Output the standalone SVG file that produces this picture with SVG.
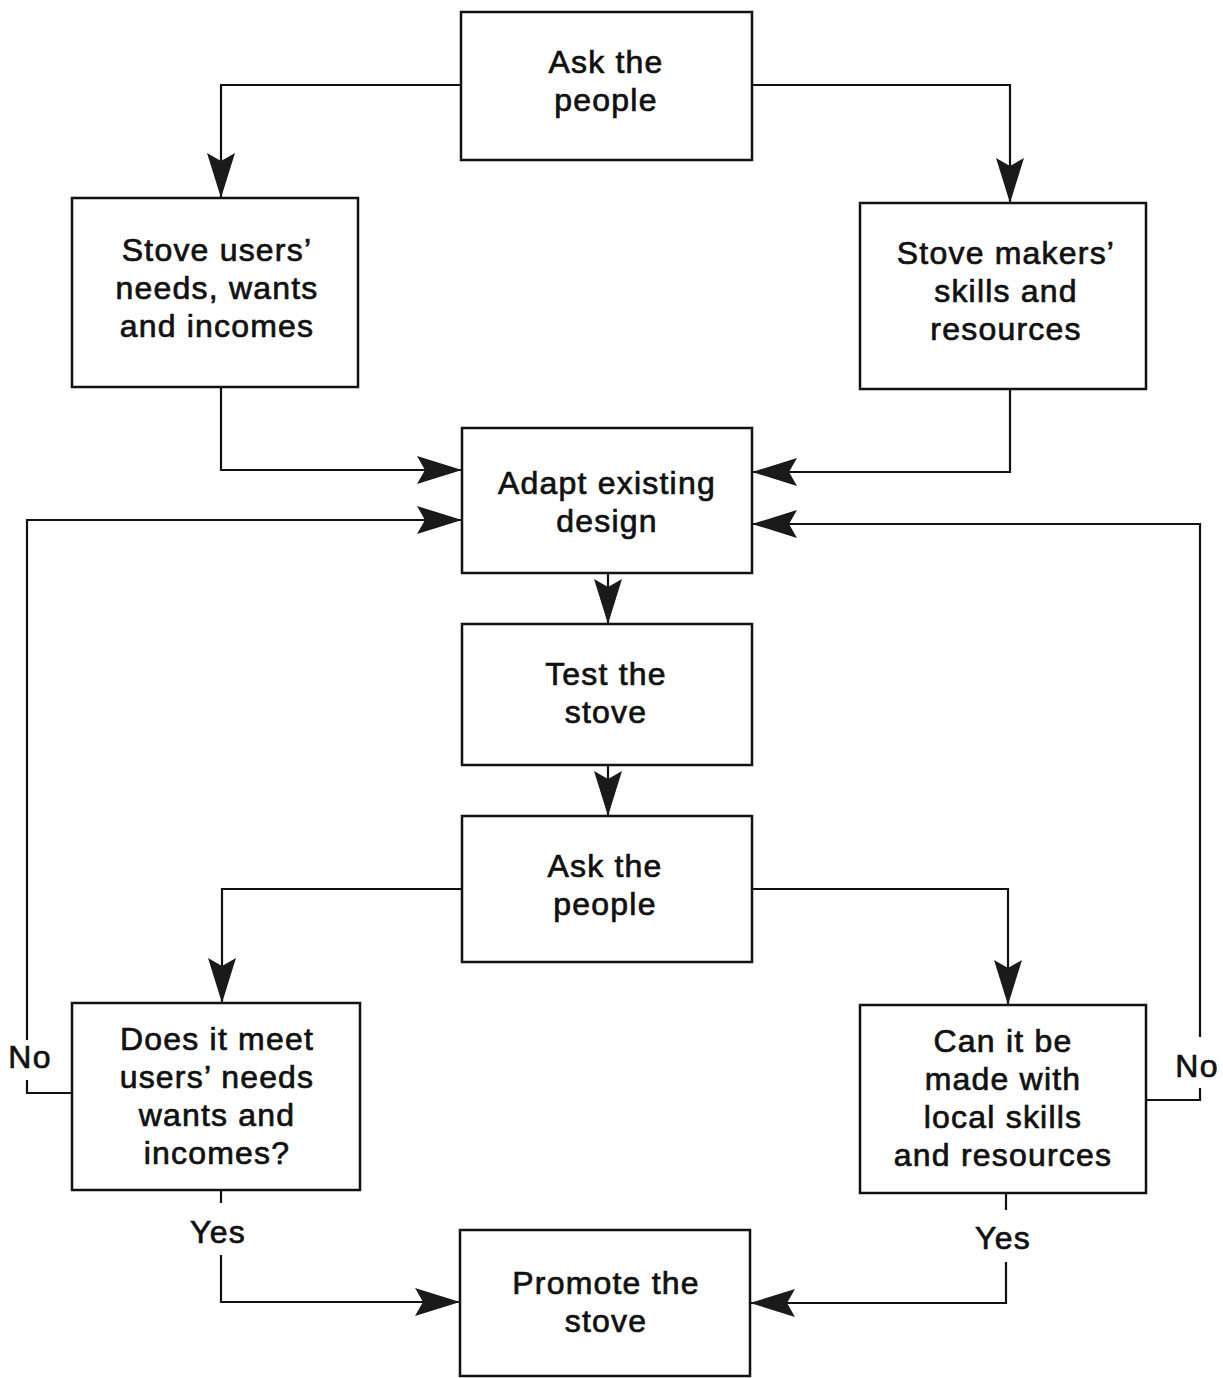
<svg xmlns="http://www.w3.org/2000/svg" width="1223" height="1378" viewBox="0 0 1223 1378">
<defs>
<marker id="arr" markerUnits="userSpaceOnUse" markerWidth="50" markerHeight="32" viewBox="-47 -16 50 32" refX="0" refY="0" orient="auto">
<path d="M0,0 L-45,-14 L-37,0 L-45,14 Z" fill="#1a1a1a"/>
</marker>
</defs>
<style>
.box{fill:#fff;stroke:#111;stroke-width:2.5}
.t{font-family:"Liberation Sans",Arial,sans-serif;font-size:32px;letter-spacing:1.2px;fill:#111;stroke:#111;stroke-width:0.7;text-anchor:middle}
.c{fill:none;stroke:#111;stroke-width:2.2}
</style>
<rect width="1223" height="1378" fill="#fff"/>
<g id="connectors">
<path class="c" d="M461,85 H221 V198" marker-end="url(#arr)"/>
<path class="c" d="M752,85 H1010 V203" marker-end="url(#arr)"/>
<path class="c" d="M221,387 V470 H462" marker-end="url(#arr)"/>
<path class="c" d="M1010,389 V472 H752" marker-end="url(#arr)"/>
<path class="c" d="M72,1093 H27 V1080"/>
<path class="c" d="M27,1040 V520 H462" marker-end="url(#arr)"/>
<path class="c" d="M1146,1100 H1200 V1088"/>
<path class="c" d="M1200,1037 V524 H752" marker-end="url(#arr)"/>
<path class="c" d="M608,573 V624" marker-end="url(#arr)"/>
<path class="c" d="M608,765 V816" marker-end="url(#arr)"/>
<path class="c" d="M462,889 H222 V1003" marker-end="url(#arr)"/>
<path class="c" d="M752,889 H1008 V1005" marker-end="url(#arr)"/>
<path class="c" d="M221,1190 V1203"/>
<path class="c" d="M221,1255 V1302 H460" marker-end="url(#arr)"/>
<path class="c" d="M1006,1193 V1210"/>
<path class="c" d="M1006,1262 V1303 H750" marker-end="url(#arr)"/>
<text class="t" x="30" y="1068">No</text>
<text class="t" x="1197" y="1077">No</text>
<text class="t" x="218" y="1243">Yes</text>
<text class="t" x="1003" y="1249">Yes</text>
</g>
<g id="ask1"><rect class="box" x="461" y="12" width="291" height="148"/><text class="t" x="606" y="73">Ask the</text><text class="t" x="606" y="111">people</text></g>
<g id="users"><rect class="box" x="72" y="198" width="286" height="189"/><text class="t" x="217" y="261">Stove users’</text><text class="t" x="217" y="299">needs, wants</text><text class="t" x="217" y="337">and incomes</text></g>
<g id="makers"><rect class="box" x="860" y="203" width="286" height="186"/><text class="t" x="1006" y="264">Stove makers’</text><text class="t" x="1006" y="302">skills and</text><text class="t" x="1006" y="340">resources</text></g>
<g id="adapt"><rect class="box" x="462" y="428" width="290" height="145"/><text class="t" x="607" y="494">Adapt existing</text><text class="t" x="607" y="532">design</text></g>
<g id="test"><rect class="box" x="462" y="624" width="290" height="141"/><text class="t" x="606" y="685">Test the</text><text class="t" x="606" y="723">stove</text></g>
<g id="ask2"><rect class="box" x="462" y="816" width="290" height="146"/><text class="t" x="605" y="877">Ask the</text><text class="t" x="605" y="915">people</text></g>
<g id="meet"><rect class="box" x="72" y="1003" width="288" height="187"/><text class="t" x="217" y="1050">Does it meet</text><text class="t" x="217" y="1088">users’ needs</text><text class="t" x="217" y="1126">wants and</text><text class="t" x="217" y="1164">incomes?</text></g>
<g id="local"><rect class="box" x="860" y="1005" width="286" height="188"/><text class="t" x="1003" y="1052">Can it be</text><text class="t" x="1003" y="1090">made with</text><text class="t" x="1003" y="1128">local skills</text><text class="t" x="1003" y="1166">and resources</text></g>
<g id="promote"><rect class="box" x="460" y="1230" width="290" height="146"/><text class="t" x="606" y="1294">Promote the</text><text class="t" x="606" y="1332">stove</text></g>
</svg>
